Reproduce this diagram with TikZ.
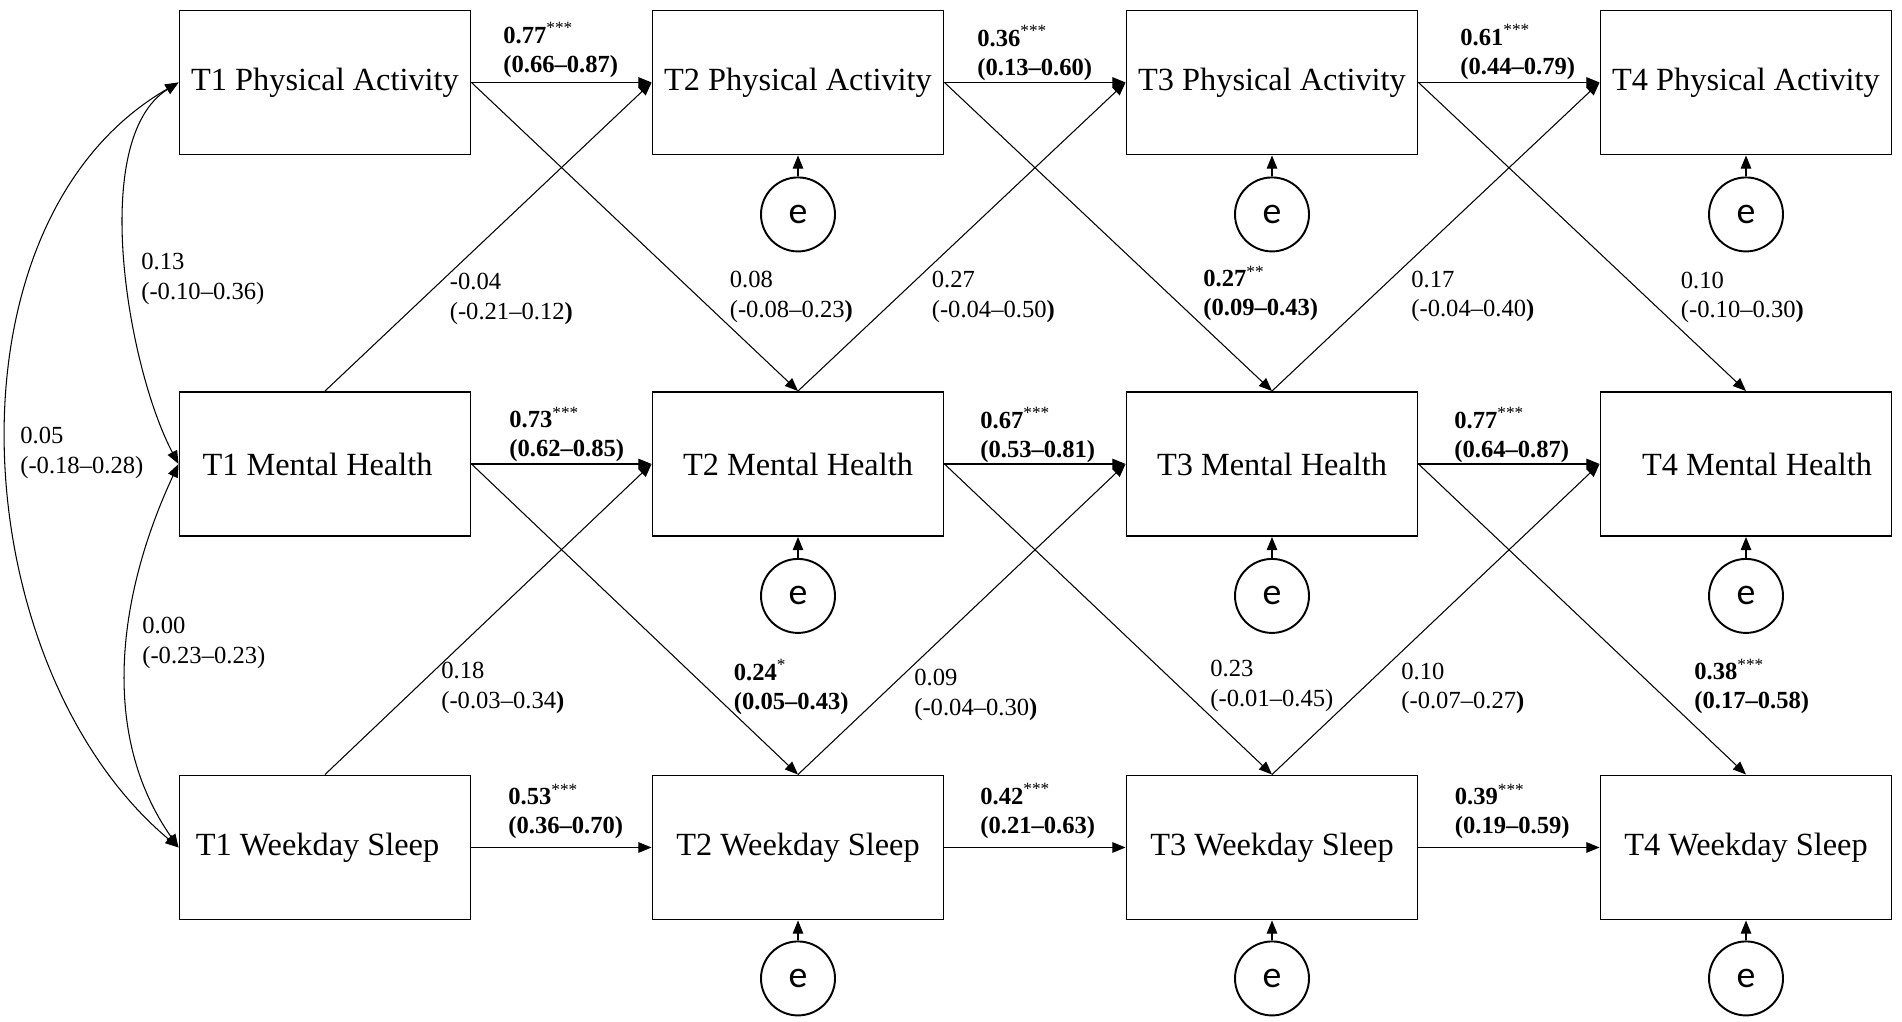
\documentclass[tikz,border=0pt]{standalone}
\usepackage{fontspec}
\setmainfont{Liberation Serif}
\newfontfamily\errfont{Carlito}
\usetikzlibrary{arrows.meta,positioning}

\tikzset{
	var/.style={draw, line width=1.1pt, minimum width=5.82cm, minimum height=2.88cm, inner sep=0pt, font=\fontsize{18.4}{22}\selectfont},
	err/.style={draw, circle, line width=1.1pt, minimum size=1.48cm, inner sep=0pt, font=\errfont\fontsize{21.5}{24}\selectfont},
	arr/.style={line width=0.6pt, -{Triangle[length=7.5pt,width=6pt]}},
	cov/.style={line width=0.6pt, {Triangle[length=7.5pt,width=6pt]}-{Triangle[length=7.5pt,width=6pt]}},
	lbl/.style={anchor=west, align=left, inner sep=0pt, font=\fontsize{14}{16.6}\selectfont}
}

\begin{document}
\begin{tikzpicture}
			%%%%% START %%%%%
			\useasboundingbox (0, 0) rectangle (38.04, 20.44);
			
			% observed variables
			\node[var] (pa1) at (6.5, 18.79) {T1 Physical Activity};
			\node[var] (pa2) at (15.96, 18.79) {T2 Physical Activity};
			\node[var] (pa3) at (25.44, 18.79) {T3 Physical Activity};
			\node[var] (pa4) at (34.92, 18.79) {T4 Physical Activity};
			
			\node[var] (mh1) at (6.5, 11.16) {T1 Mental Health\hspace*{0.3cm}};
			\node[var] (mh2) at (15.96, 11.16) {T2 Mental Health};
			\node[var] (mh3) at (25.44, 11.16) {T3 Mental Health};
			\node[var] (mh4) at (34.92, 11.16) {\hspace*{0.44cm}T4 Mental Health};
			
			\node[var] (ws1) at (6.5, 3.49) {T1 Weekday Sleep\hspace*{0.3cm}};
			\node[var] (ws2) at (15.96, 3.49) {T2 Weekday Sleep};
			\node[var] (ws3) at (25.44, 3.49) {T3 Weekday Sleep};
			\node[var] (ws4) at (34.92, 3.49) {T4 Weekday Sleep};
			
			% residuals
			\node[err, below=0.42cm of pa2] (epa2) {e};
			\node[err, below=0.42cm of pa3] (epa3) {e};
			\node[err, below=0.42cm of pa4] (epa4) {e};
			\node[err, below=0.42cm of mh2] (emh2) {e};
			\node[err, below=0.42cm of mh3] (emh3) {e};
			\node[err, below=0.42cm of mh4] (emh4) {e};
			\node[err, below=0.40cm of ws2] (ews2) {e};
			\node[err, below=0.40cm of ws3] (ews3) {e};
			\node[err, below=0.40cm of ws4] (ews4) {e};
			
			\draw[arr] (epa2) -- (pa2);
			\draw[arr] (epa3) -- (pa3);
			\draw[arr] (epa4) -- (pa4);
			\draw[arr] (emh2) -- (mh2);
			\draw[arr] (emh3) -- (mh3);
			\draw[arr] (emh4) -- (mh4);
			\draw[arr] (ews2) -- (ws2);
			\draw[arr] (ews3) -- (ws3);
			\draw[arr] (ews4) -- (ws4);
			
			% autoregressive paths
			\draw[arr] (pa1.east) -- (pa2.west);
			\draw[arr] (pa2.east) -- (pa3.west);
			\draw[arr] (pa3.east) -- (pa4.west);
			\draw[arr] (mh1.east) -- (mh2.west);
			\draw[arr] (mh2.east) -- (mh3.west);
			\draw[arr] (mh3.east) -- (mh4.west);
			\draw[arr] (ws1.east) -- (ws2.west);
			\draw[arr] (ws2.east) -- (ws3.west);
			\draw[arr] (ws3.east) -- (ws4.west);
			
			% cross-lagged paths
			\draw[arr] (pa1.east) -- (mh2.north);
			\draw[arr] (pa2.east) -- (mh3.north);
			\draw[arr] (pa3.east) -- (mh4.north);
			\draw[arr] (mh1.north) -- (pa2.west);
			\draw[arr] (mh2.north) -- (pa3.west);
			\draw[arr] (mh3.north) -- (pa4.west);
			\draw[arr] (mh1.east) -- (ws2.north);
			\draw[arr] (mh2.east) -- (ws3.north);
			\draw[arr] (mh3.east) -- (ws4.north);
			\draw[arr] (ws1.north) -- (mh2.west);
			\draw[arr] (ws2.north) -- (mh3.west);
			\draw[arr] (ws3.north) -- (mh4.west);
			
			% covariances at T1
			\draw[cov] (pa1.west) to[out=212, in=118, looseness=0.72] (mh1.west);
			\draw[cov] (mh1.west) to[out=245, in=125, looseness=0.94] (ws1.west);
			\draw[cov] (pa1.west) to[out=210, in=140, looseness=0.94] (ws1.west);
			
			% estimates
			\node[lbl] (l1) at (10.06, 19.44) {\textbf{0.77}\textsuperscript{***}\\\textbf{(0.66--0.87)}};
			\node[lbl] (l2) at (19.54, 19.38) {\textbf{0.36}\textsuperscript{***}\\\textbf{(0.13--0.60)}};
			\node[lbl] (l3) at (29.20, 19.40) {\textbf{0.61}\textsuperscript{***}\\\textbf{(0.44--0.79)}};
			\node[lbl] (l4) at (10.18, 11.75) {\textbf{0.73}\textsuperscript{***}\\\textbf{(0.62--0.85)}};
			\node[lbl] (l5) at (19.60, 11.74) {\textbf{0.67}\textsuperscript{***}\\\textbf{(0.53--0.81)}};
			\node[lbl] (l6) at (29.08, 11.74) {\textbf{0.77}\textsuperscript{***}\\\textbf{(0.64--0.87)}};
			\node[lbl] (l7) at (10.16, 4.21) {\textbf{0.53}\textsuperscript{***}\\\textbf{(0.36--0.70)}};
			\node[lbl] (l8) at (19.60, 4.22) {\textbf{0.42}\textsuperscript{***}\\\textbf{(0.21--0.63)}};
			\node[lbl] (l9) at (29.09, 4.21) {\textbf{0.39}\textsuperscript{***}\\\textbf{(0.19--0.59)}};
			
			\node[lbl] (l10) at (8.99, 14.46) {-0.04\\(-0.21--0.12\textbf{)}};
			\node[lbl] (l11) at (14.59, 14.50) {0.08\\(-0.08--0.23\textbf{)}};
			\node[lbl] (l12) at (18.63, 14.50) {0.27\\(-0.04--0.50\textbf{)}};
			\node[lbl] (l13) at (24.06, 14.57) {\textbf{0.27}\textsuperscript{**}\\\textbf{(0.09--0.43)}};
			\node[lbl] (l14) at (28.22, 14.51) {0.17\\(-0.04--0.40\textbf{)}};
			\node[lbl] (l15) at (33.61, 14.49) {0.10\\(-0.10--0.30\textbf{)}};
			
			\node[lbl] (l16) at (8.82, 6.68) {0.18\\(-0.03--0.34\textbf{)}};
			\node[lbl] (l17) at (14.67, 6.70) {\textbf{0.24}\textsuperscript{*}\\\textbf{(0.05--0.43)}};
			\node[lbl] (l18) at (18.28, 6.54) {0.09\\(-0.04--0.30\textbf{)}};
			\node[lbl] (l19) at (24.20, 6.72) {0.23\\(-0.01--0.45)};
			\node[lbl] (l20) at (28.02, 6.67) {0.10\\(-0.07--0.27\textbf{)}};
			\node[lbl] (l21) at (33.88, 6.71) {\textbf{0.38}\textsuperscript{***}\\\textbf{(0.17--0.58)}};
			
			\node[lbl] (l22) at (2.82, 14.86) {0.13\\(-0.10--0.36)};
			\node[lbl] (l23) at (0.40, 11.38) {0.05\\(-0.18--0.28)};
			\node[lbl] (l24) at (2.84, 7.58) {0.00\\(-0.23--0.23)};
			
			%%%%% END %%%%%
\end{tikzpicture}
\end{document}
